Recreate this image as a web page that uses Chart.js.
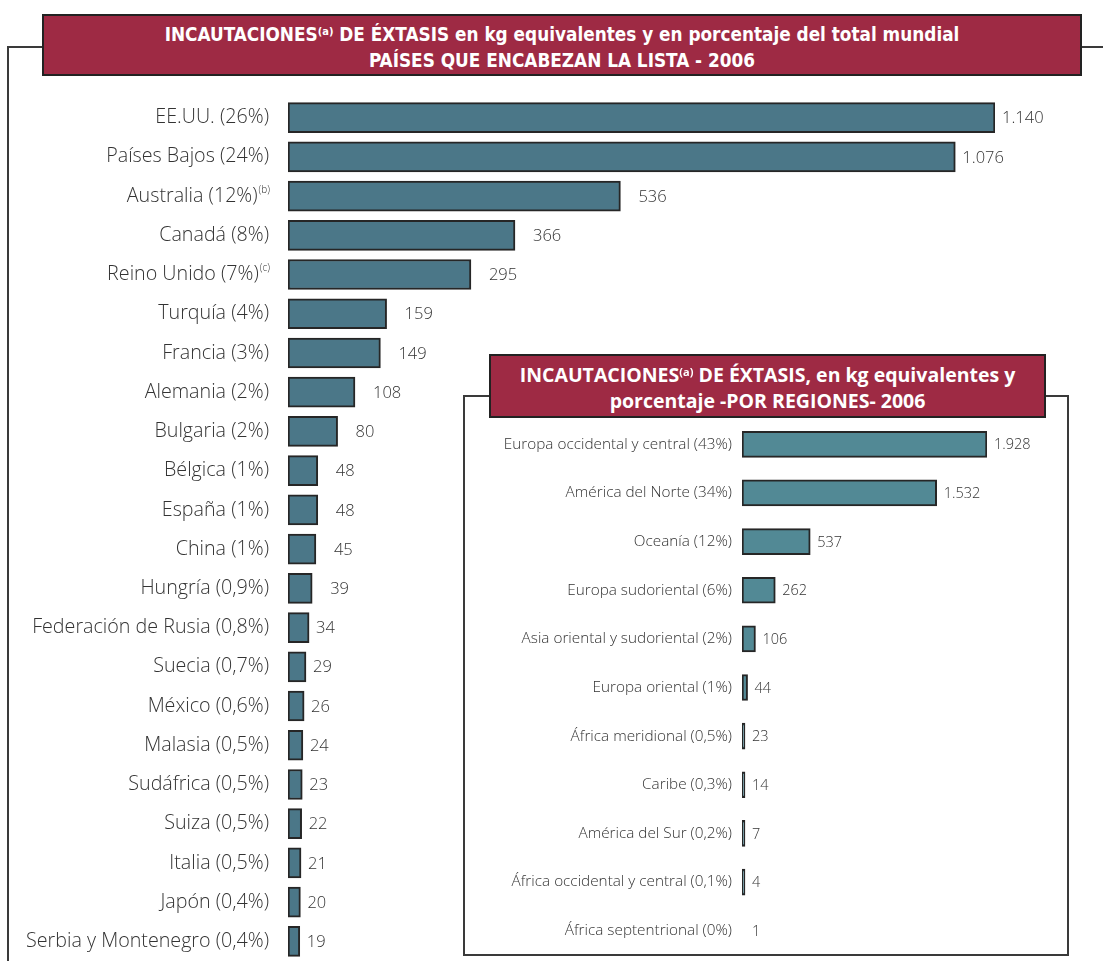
<!DOCTYPE html>
<html>
<head>
<meta charset="utf-8">
<script src="https://cdn.jsdelivr.net/npm/chart.js@4"></script>
<style>
  html,body{margin:0;padding:0;background:#fff;}
  body{width:1103px;height:961px;position:relative;overflow:hidden;font-family:"Open Sans",sans-serif;}
  .frame{position:absolute;left:7px;top:46px;width:1200px;height:1000px;border-top:2px solid #3a3a3a;border-left:2px solid #3a3a3a;}
  .title{position:absolute;background:#9e2a44;border:2px solid #222;box-sizing:border-box;color:#fff;text-align:center;font-weight:bold;white-space:nowrap;}
  .t1{left:42px;top:14px;width:1040px;height:62px;font-family:"Liberation Sans Narrow","DejaVu Sans Condensed",sans-serif;font-stretch:condensed;font-size:18.8px;line-height:23px;padding-top:7px;}
  .t2{left:489px;top:354px;width:557px;height:64px;font-family:"Open Sans",sans-serif;font-size:19.5px;line-height:23px;padding-top:7px;}
  .title sup{font-size:11px;vertical-align:0;position:relative;top:-6px;}
  .inset{position:absolute;left:463px;top:395px;width:606px;height:561px;border:2px solid #3a3a3a;box-sizing:border-box;background:#fff;}
  canvas{position:absolute;}
</style>
</head>
<body>
<div class="frame"></div>
<div class="title t1">INCAUTACIONES<sup>(a)</sup> DE ÉXTASIS en kg equivalentes y en porcentaje del total mundial<br>PAÍSES QUE ENCABEZAN LA LISTA - 2006</div>
<canvas id="main" width="1103" height="865" style="left:0;top:97px;"></canvas>
<div class="inset"></div>
<canvas id="reg" width="603" height="535" style="left:464px;top:420px;"></canvas>
<div class="title t2">INCAUTACIONES<sup>(a)</sup> DE ÉXTASIS, en kg equivalentes y<br>porcentaje -POR REGIONES- 2006</div>
<script>
// ── datos: países ──
const countries = ['EE.UU. (26%)','Países Bajos (24%)','Australia (12%)','Canadá (8%)','Reino Unido (7%)','Turquía (4%)','Francia (3%)','Alemania (2%)','Bulgaria (2%)','Bélgica (1%)','España (1%)','China (1%)','Hungría (0,9%)','Federación de Rusia (0,8%)','Suecia (0,7%)','México (0,6%)','Malasia (0,5%)','Sudáfrica (0,5%)','Suiza (0,5%)','Italia (0,5%)','Japón (0,4%)','Serbia y Montenegro (0,4%)'];
const countryNotes = ['','','(b)','','(c)','','','','','','','','','','','','','','','','',''];
const countryKg = [1140,1076,536,366,295,159,149,108,80,48,48,45,39,34,29,26,24,23,22,21,20,19];

// ── datos: regiones ──
const regions = ['Europa occidental y central (43%)','América del Norte (34%)','Oceanía (12%)','Europa sudoriental (6%)','Asia oriental y sudoriental (2%)','Europa oriental (1%)','África meridional (0,5%)','Caribe (0,3%)','América del Sur (0,2%)','África occidental y central (0,1%)','África septentrional (0%)'];
const regionKg = [1928,1532,537,262,106,44,23,14,7,4,1];

const fmt = v => v >= 1000 ? Math.floor(v/1000) + '.' + String(v % 1000).padStart(3,'0') : String(v);

// etiquetas de categoría y valores dibujadas a mano (para los superíndices)
const labelPlugin = {
  id:'labels',
  afterDatasetsDraw(chart, args, o){
    const c = chart.ctx, y = chart.scales.y, meta = chart.getDatasetMeta(0);
    c.save();
    c.fillStyle = '#333';
    c.textBaseline = 'middle';
    o.labels.forEach((lab,i)=>{
      const py = y.getPixelForValue(i);
      const right = chart.chartArea.left - o.labelGap;
      let nw = 0;
      const note = o.notes ? o.notes[i] : '';
      if(note){
        c.font = o.noteFont;
        nw = c.measureText(note).width;
        c.textAlign = 'left';
        c.fillText(note, right - nw, py - 6);
      }
      c.font = o.font;
      c.textAlign = 'right';
      c.fillText(lab, right - nw - 1, py);
      // valor
      const v = o.values[i];
      const bx = meta.data[i].x;
      c.font = o.valueFont;
      c.textAlign = 'left';
      c.fillText(fmt(v), bx + o.valueGap(v), py + 1);
    });
    c.restore();
  }
};

function barChart(id, labels, values, max, opts){
  return new Chart(document.getElementById(id).getContext('2d'), {
    type:'bar',
    data:{
      labels:labels,
      datasets:[{
        data:values,
        // las barras de menos de 2 kg no se ven en el original
        backgroundColor: ctx => ctx.raw < 2 ? 'rgba(0,0,0,0)' : opts.color,
        borderColor: ctx => ctx.raw < 2 ? 'rgba(0,0,0,0)' : '#262626',
        borderWidth:2,
        borderSkipped:false,
        minBarLength:3,
        barThickness: opts.thick
      }]
    },
    options:{
      indexAxis:'y',
      responsive:false,
      animation:false,
      layout:{padding:opts.pad},
      scales:{
        x:{display:false,min:0,max:max},
        y:{display:false}
      },
      plugins:{
        legend:{display:false},
        tooltip:{enabled:false},
        labels:{
          labels:labels, notes:opts.notes, values:values,
          labelGap:opts.labelGap, font:opts.font, noteFont:opts.noteFont,
          valueFont:opts.valueFont, valueGap:opts.valueGap
        }
      }
    },
    plugins:[labelPlugin]
  });
}

barChart('main', countries, countryKg, 1140, {
  color:'#4b7788', thick:30,
  pad:{left:288,right:108,top:1,bottom:1},
  notes:countryNotes, labelGap:18,
  font:'300 19.7px "Open Sans", sans-serif',
  noteFont:'300 10px "Open Sans", sans-serif',
  valueFont:'300 16.5px "Open Sans", sans-serif',
  valueGap: v => (v < 35 || v > 1000) ? 7 : 18
});

barChart('reg', regions, regionKg, 1928, {
  color:'#528995', thick:26,
  pad:{left:278,right:80,top:0,bottom:0},
  notes:null, labelGap:9,
  font:'300 15.3px "Open Sans", sans-serif',
  noteFont:'300 9px "Open Sans", sans-serif',
  valueFont:'300 14.5px "Open Sans", sans-serif',
  valueGap: v => 7
});
</script>
</body>
</html>
